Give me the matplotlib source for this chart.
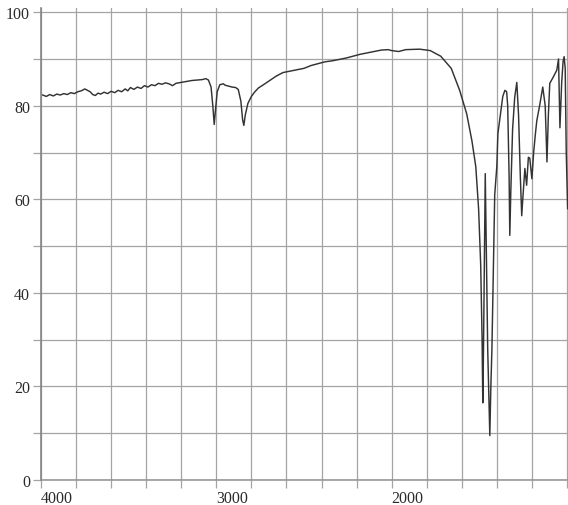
import matplotlib
matplotlib.use('Agg')
import matplotlib.pyplot as plt
import numpy as np
from matplotlib.ticker import FixedLocator, FuncFormatter

# IR spectrum: wavenumber (cm-1) and % transmittance
wn = [3990, 3970, 3950, 3930, 3910, 3890, 3870, 3850, 3830, 3810, 3790, 3770,
      3750, 3735, 3720, 3705, 3690, 3675, 3660, 3640, 3620, 3600, 3580, 3560,
      3540, 3520, 3505, 3490, 3470, 3450, 3430, 3410, 3390, 3370, 3350, 3330,
      3310, 3290, 3270, 3250, 3230, 3200, 3170, 3140, 3110, 3080, 3060, 3045,
      3030, 3020, 3012, 3005, 2995, 2980, 2960, 2950, 2930, 2910, 2890, 2875,
      2860, 2850, 2843, 2835, 2820, 2800, 2780, 2760, 2735, 2700, 2660, 2620,
      2580, 2540, 2500, 2460, 2420, 2380, 2340, 2300, 2260, 2220, 2180, 2140,
      2100, 2060, 2020, 2000, 1980, 1960, 1920, 1890, 1860, 1830, 1806, 1786,
      1771, 1760, 1752, 1746, 1742, 1740, 1738, 1735, 1733, 1730, 1726, 1722,
      1720, 1717, 1714, 1710, 1706, 1700, 1697, 1690, 1683, 1677, 1672, 1669,
      1665, 1663, 1660, 1655, 1649, 1643, 1638, 1633, 1629, 1626, 1620, 1615,
      1610, 1606, 1600, 1595, 1590, 1586, 1578, 1569, 1562, 1557, 1553, 1549,
      1540, 1529, 1524, 1520, 1515, 1511, 1508, 1505, 1502, 1498]
trans = [82.3, 82.0, 82.4, 82.1, 82.5, 82.3, 82.6, 82.4, 82.8, 82.6, 83.0, 83.2,
         83.6, 83.3, 83.0, 82.4, 82.2, 82.7, 82.5, 82.9, 82.6, 83.1, 82.8, 83.3,
         83.0, 83.6, 83.2, 83.9, 83.5, 84.0, 83.7, 84.3, 84.0, 84.5, 84.3, 84.8,
         84.6, 84.9, 84.7, 84.3, 84.8, 85.0, 85.2, 85.4, 85.5, 85.6, 85.8, 85.5,
         84.0, 80.0, 76.0, 79.0, 83.0, 84.5, 84.7, 84.4, 84.2, 84.0, 83.9, 83.5,
         81.0, 77.0, 75.8, 78.0, 80.5, 82.0, 83.0, 83.8, 84.4, 85.3, 86.3, 87.1,
         87.4, 87.7, 88.0, 88.6, 89.0, 89.4, 89.6, 89.9, 90.2, 90.6, 91.0, 91.3,
         91.6, 91.9, 92.0, 91.8, 91.6, 92.0, 92.1, 91.8, 90.6, 88.0, 83.3, 78.3,
         72.5, 67.0, 58.0, 46.0, 30.0, 16.5, 28.0, 50.0, 65.5, 50.0, 28.0, 15.0,
         9.5, 20.0, 28.0, 45.0, 61.0, 67.0, 74.0, 78.0, 82.0, 83.3, 83.0, 80.0,
         65.0, 52.3, 62.0, 75.0, 81.8, 85.0, 78.0, 65.0, 56.5, 60.0, 66.6, 63.0,
         69.0, 68.8, 64.4, 70.0, 74.0, 76.8, 80.0, 84.0, 80.0, 68.0, 78.0, 84.8,
         86.0, 87.6, 90.0, 75.3, 85.0, 89.5, 90.5, 88.0, 70.0, 58.0]

x_grid = [4000, 3800, 3600, 3400, 3200, 3000, 2800, 2600, 2400, 2200, 2000,
          1900, 1800, 1700, 1600, 1500]
x_labels = {4000: '4000', 3000: '3000', 2000: '2000'}
y_grid = [0, 10, 20, 30, 40, 50, 60, 70, 80, 90, 100]
y_labels = [0, 20, 40, 60, 80, 100]


# chart paper: below 2000 cm-1 the scale is stretched 2x
def fwd(w):
    w = np.asarray(w, dtype=float)
    return np.where(w >= 2000, w, 2 * w - 2000)


def inv(v):
    v = np.asarray(v, dtype=float)
    return np.where(v >= 2000, v, (v + 2000) / 2)


grid_c = '#a4a4a4'
fig = plt.figure(figsize=(5.68, 5.06), dpi=100)
ax = fig.add_axes([0.0722, 0.0494, 0.9278, 0.9328])
ax.set_xscale('function', functions=(fwd, inv))

ax.plot(wn, trans, color='#333333', lw=1.05, zorder=3)

ax.set_xlim(4000, 1497)
ax.set_ylim(0, 100.9)

ax.xaxis.set_major_locator(FixedLocator(x_grid))
ax.xaxis.set_major_formatter(FuncFormatter(lambda v, p: x_labels.get(int(round(v)), '')))
ax.yaxis.set_major_locator(FixedLocator(y_grid))
ax.yaxis.set_major_formatter(FuncFormatter(lambda v, p: str(int(v)) if int(round(v)) in y_labels else ''))
ax.xaxis.set_minor_locator(FixedLocator([]))

ax.grid(True, color=grid_c, lw=0.9)
for s in ['top', 'right']:
    ax.spines[s].set_visible(False)
ax.spines['left'].set_color('#858585')
ax.spines['left'].set_linewidth(1.2)
ax.spines['bottom'].set_color('#8f8f8f')
ax.spines['bottom'].set_linewidth(1.1)

ax.tick_params(axis='both', direction='out', length=6, width=0.9, color=grid_c,
               labelsize=11.5, labelcolor='#2a2a2a')
ax.tick_params(axis='y', pad=2)
ax.tick_params(axis='x', pad=1)
for lbl in ax.get_xticklabels() + ax.get_yticklabels():
    lbl.set_fontfamily('Liberation Serif')
for lbl in ax.get_xticklabels():
    lbl.set_ha('left')

fig.savefig('out.png', dpi=100)
